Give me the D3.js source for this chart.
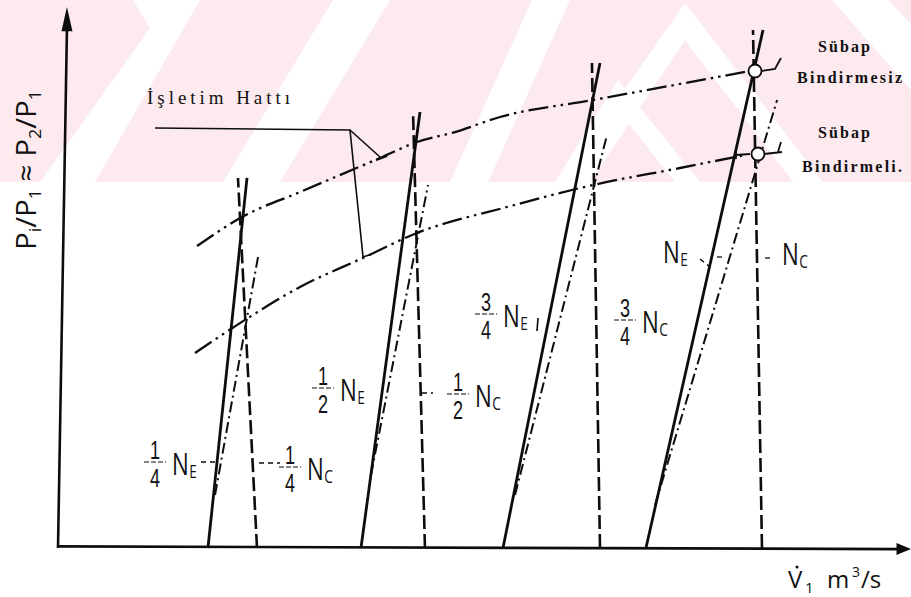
<!DOCTYPE html>
<html>
<head>
<meta charset="utf-8">
<script src="https://cdn.jsdelivr.net/npm/d3@7"></script>
<style>
  html, body { margin: 0; padding: 0; background: #fff; }
  svg { display: block; }
  .sans { font-family: "Open Sans", "Liberation Sans", sans-serif; font-weight: 400; fill: #111; }
  .digits { font-family: "Liberation Sans", Arial, sans-serif; font-weight: 400; fill: #111; }
  .serif { font-family: "Liberation Serif", "DejaVu Serif", serif; fill: #111; }
</style>
</head>
<body>
<svg id="chart" width="911" height="597"></svg>
<script>
// ---------------- data (schematic units: flow 0..10, pressure ratio 0..10) ----------------
const speedFractions = ["1/4", "1/2", "3/4", "1"];

// engine constant-speed lines N_E (solid): foot on the flow axis and upper end
const engineFootX = [1.758, 3.552, 5.217, 6.893];
const engineTop   = [[2.216, 6.84], [4.244, 8.06], [6.354, 8.965], [8.265, 9.575]];

// compressor constant-speed lines N_C (dashed)
const compFootX = [2.333, 4.302, 6.354, 8.253];
const compTop   = [[2.110, 6.84], [4.162, 8.06], [6.260, 8.965], [8.148, 9.575]];

// engine speed lines with valve overlap (dash-dot)
const overlapLines = [
  [[1.841, 0.98], [2.345, 5.379]],
  [[3.669, 1.349], [4.338, 6.710]],
  [[5.358, 0.98], [6.436, 7.634]],
  [[6.999, 0.795], [8.430, 8.280]]
];

// operating lines
const opNoOverlap = [[1.630, 5.582], [2.157, 6.118], [2.837, 6.580], [3.775, 7.209], [4.209, 7.505],
                     [4.654, 7.689], [5.182, 7.967], [6.272, 8.281], [7.292, 8.577], [8.054, 8.799]];
const opOverlap   = [[1.606, 3.604], [2.227, 4.251], [2.837, 4.824], [3.599, 5.379], [4.209, 5.823],
                     [5.264, 6.303], [6.272, 6.710], [7.292, 7.024], [8.054, 7.264]];
// full-speed matching points
const fullSpeedPoints = [[8.171, 8.817], [8.206, 7.283]];

// "İşletim Hattı" leader: start, corner, end on lower line, end on upper line
const leaderPts = [[1.137, 7.763], [3.423, 7.726], [3.576, 5.379], [3.775, 7.227]];

const texts = {
  opLine: "İşletim Hattı",
  noOverlap: ["Sübap", "Bindirmesiz"],
  overlap: ["Sübap", "Bindirmeli."]
};

// ---------------- setup ----------------
const W = 911, H = 597;
const svg = d3.select("#chart");
const x = d3.scaleLinear().domain([0, 10]).range([58, 911]);
const y = d3.scaleLinear().domain([0, 10]).range([548, 7]);
const line = d3.line().x(d => x(d[0])).y(d => y(d[1]));
const curve = d3.line().x(d => x(d[0])).y(d => y(d[1])).curve(d3.curveMonotoneX);
const INK = "#0d0d0d";

// ---------------- faint background stamp ----------------
const defs = svg.append("defs");
defs.append("clipPath").attr("id", "band").append("rect")
  .attr("x", 0).attr("y", 0).attr("width", W).attr("height", 182);
const stamp = svg.append("g").attr("clip-path", "url(#band)");
stamp.append("rect").attr("x", 0).attr("y", 0).attr("width", W).attr("height", 182).attr("fill", "#fceaee");
const stampGaps = [
  [[133, 0], [200, 0], [95, 182], [40, 182], [150, 28]],
  [[333, 0], [390, 0], [280, 182], [223, 182]],
  [[532, 0], [570, 0], [488, 182], [450, 182]],
  [[685, 3], [823, 182], [793, 182], [685, 40], [590, 182], [560, 182]],
  [[618, 80], [700, 182], [675, 182], [618, 110], [575, 182], [555, 182]],
  [[832, 0], [888, 0], [911, 24], [911, 90]]
];
stamp.selectAll("polygon").data(stampGaps).join("polygon")
  .attr("points", d => d.map(p => p.join(",")).join(" "))
  .attr("fill", "#fff");

// ---------------- axes ----------------
const axes = svg.append("g").attr("stroke", INK).attr("fill", "none").attr("stroke-width", 2.6);
axes.append("path").attr("d", `M${x(0)},${y(0)} L${x(0.105)},${y(9.6)}`);
axes.append("path").attr("d", `M${x(-0.01)},${y(0.03)} L${x(9.85)},${y(-0.02)}`);
svg.append("path").attr("fill", INK)
  .attr("d", `M${x(0.105)},${y(10)} L${x(0.105) - 5.5},${y(9.55)} L${x(0.105) + 5.5},${y(9.55)} Z`);
svg.append("path").attr("fill", INK)
  .attr("d", `M${x(10)},${y(-0.02)} L${x(9.83)},${y(-0.02) - 6} L${x(9.83)},${y(-0.02) + 6} Z`);

// ---------------- operating lines ----------------
const ops = svg.append("g").attr("fill", "none").attr("stroke", INK)
  .attr("stroke-width", 2.3).attr("stroke-dasharray", "20,5,2.5,5,2.5,5");
ops.append("path").attr("d", curve(opNoOverlap));
ops.append("path").attr("d", curve(opOverlap));

// ---------------- speed lines ----------------
const speed = svg.append("g").attr("fill", "none").attr("stroke", INK);
speed.selectAll("path.ne").data(engineFootX).join("path").attr("class", "ne")
  .attr("stroke-width", 2.8)
  .attr("d", (d, i) => line([[d, 0], engineTop[i]]));
speed.selectAll("path.nc").data(compFootX).join("path").attr("class", "nc")
  .attr("stroke-width", 2.6).attr("stroke-dasharray", "14,5")
  .attr("d", (d, i) => line([[d, 0], compTop[i]]));
speed.selectAll("path.ov").data(overlapLines).join("path").attr("class", "ov")
  .attr("stroke-width", 2).attr("stroke-dasharray", "11,4,2,4")
  .attr("d", d => line(d));

// ---------------- matching points at full speed ----------------
const marks = svg.append("g").attr("fill", "none").attr("stroke", INK).attr("stroke-width", 1.8);
marks.selectAll("circle").data(fullSpeedPoints).join("circle")
  .attr("cx", d => x(d[0])).attr("cy", d => y(d[1])).attr("r", 6.5).attr("fill", "#fff");
const [u, l] = fullSpeedPoints;
marks.append("path").attr("d",
  `M${x(u[0]) + 6},${y(u[1])} L${x(u[0]) + 20},${y(u[1]) - 2} L${x(u[0]) + 26},${y(u[1]) - 13}`);
marks.append("path").attr("d",
  `M${x(l[0]) + 6},${y(l[1])} L${x(l[0]) + 24},${y(l[1]) - 2} M${x(l[0]) + 20},${y(l[1]) - 2} L${x(l[0]) + 23},${y(l[1]) - 12}`);
marks.append("path").attr("d",
  `M${x(l[0]) - 22},${y(l[1]) - 4} L${x(l[0]) - 22},${y(l[1]) + 5} M${x(l[0]) - 22},${y(l[1]) + 1} L${x(l[0]) - 8},${y(l[1])}`);

// ---------------- "İşletim Hattı" leader ----------------
const [p0, p1, p2, p3] = leaderPts;
const lead = svg.append("g").attr("fill", "none").attr("stroke", INK).attr("stroke-width", 1.6);
lead.append("path").attr("d", line([p0, p1, p2]));
lead.append("path").attr("d", line([p1, p3]));
lead.append("path").attr("stroke-width", 2.2)
  .attr("d", `M${x(p3[0]) - 4},${y(p3[1]) + 3} L${x(p3[0]) + 7},${y(p3[1]) - 1}`);
lead.append("path").attr("d", `M${x(p2[0])},${y(p2[1])} L${x(p2[0]) + 9},${y(p2[1]) - 3}`);

svg.append("text").attr("class", "serif")
  .attr("x", 147).attr("y", 104).attr("font-size", 19)
  .attr("textLength", 143).attr("lengthAdjust", "spacing")
  .text(texts.opLine);

// ---------------- valve overlap captions ----------------
const cap = svg.append("g").attr("class", "serif").attr("font-weight", "bold").attr("font-size", 16);
cap.append("text").attr("x", 818).attr("y", 52).attr("textLength", 52).attr("lengthAdjust", "spacing").text(texts.noOverlap[0]);
cap.append("text").attr("x", 797).attr("y", 83).attr("textLength", 105).attr("lengthAdjust", "spacing").text(texts.noOverlap[1]);
cap.append("text").attr("x", 818).attr("y", 138).attr("textLength", 52).attr("lengthAdjust", "spacing").text(texts.overlap[0]);
cap.append("text").attr("x", 802).attr("y", 172).attr("textLength", 100).attr("lengthAdjust", "spacing").text(texts.overlap[1]);

// ---------------- speed labels ----------------
const SX = 0.72;
const labelLayout = [
  { i: 0, sub: "E", nx: 172, ny: 475 },
  { i: 0, sub: "C", nx: 307, ny: 480 },
  { i: 1, sub: "E", nx: 340, ny: 401 },
  { i: 1, sub: "C", nx: 475, ny: 407 },
  { i: 2, sub: "E", nx: 503, ny: 327 },
  { i: 2, sub: "C", nx: 642, ny: 333 },
  { i: 3, sub: "E", nx: 663, ny: 263 },
  { i: 3, sub: "C", nx: 782, ny: 265 }
];
function glyph(g, txt, px, py, size, anchor, cls) {
  const t = g.append("text").attr("class", cls || "sans")
    .attr("transform", `translate(${px},${py}) scale(${SX},1)`)
    .attr("font-size", size).attr("text-anchor", anchor || "start").text(txt);
  return t.node().getComputedTextLength() * SX;
}
const labels = svg.append("g");
labelLayout.forEach(L => {
  const w = glyph(labels, "N", L.nx, L.ny, 31);
  glyph(labels, L.sub, L.nx + w + 0.5, L.ny + 3, 19);
  const frac = speedFractions[L.i].split("/");
  if (frac.length === 2) {
    const fx = L.nx - 17;
    glyph(labels, frac[0], fx, L.ny - 16.5, 25, "middle", "digits");
    glyph(labels, frac[1], fx, L.ny + 12, 25, "middle", "digits");
    labels.append("line").attr("x1", fx - 11).attr("x2", fx + 11)
      .attr("y1", L.ny - 13).attr("y2", L.ny - 13)
      .attr("stroke", INK).attr("stroke-width", 1.2).attr("stroke-dasharray", "5,2");
  }
});
// small leader marks between labels and their lines
const leaders = [
  [[201, 462], [216, 462]], [[259, 463], [280, 463]], [[422, 393], [433, 393]],
  [[700, 259], [710, 267]], [[717, 257], [723, 257]], [[765, 258], [771, 258]]
];
labels.selectAll("path.ld").data(leaders).join("path").attr("class", "ld")
  .attr("d", d => `M${d[0][0]},${d[0][1]} L${d[1][0]},${d[1][1]}`)
  .attr("stroke", INK).attr("stroke-width", 1.3).attr("stroke-dasharray", "5,4");
labels.append("path").attr("d", "M538,318 L537,331").attr("stroke", INK).attr("stroke-width", 1.6);

// ---------------- axis titles ----------------
const yl = svg.append("g").attr("transform", "translate(36,250) rotate(-90)");
const ylt = yl.append("text").attr("class", "sans").attr("font-size", 28);
const yParts = [["P", 0], ["i", 1], ["/P", 0], ["1", 1], [" ≈ P", 0], ["2", 1], ["/P", 0], ["1", 1]];
let prevSub = 0;
yParts.forEach(([t, s]) => {
  const ts = ylt.append("tspan").text(t).attr("font-size", s ? 17 : 28);
  if (s !== prevSub) ts.attr("dy", s ? 5 : -5);
  prevSub = s;
});
const ylw = ylt.node().getComputedTextLength();
ylt.attr("transform", `scale(${160 / ylw},1)`);

const xl = svg.append("g").attr("class", "sans");
xl.append("text").attr("x", 788).attr("y", 588).attr("font-size", 24).text("V");
xl.append("circle").attr("cx", 797).attr("cy", 567).attr("r", 1.5).attr("fill", INK);
xl.append("text").attr("x", 805).attr("y", 593).attr("font-size", 15).text("1");
xl.append("text").attr("x", 827).attr("y", 588).attr("font-size", 24).text("m");
xl.append("text").attr("x", 852).attr("y", 577).attr("font-size", 14).text("3");
xl.append("text").attr("x", 861).attr("y", 588).attr("font-size", 24).text("/s");
</script>
</body>
</html>
